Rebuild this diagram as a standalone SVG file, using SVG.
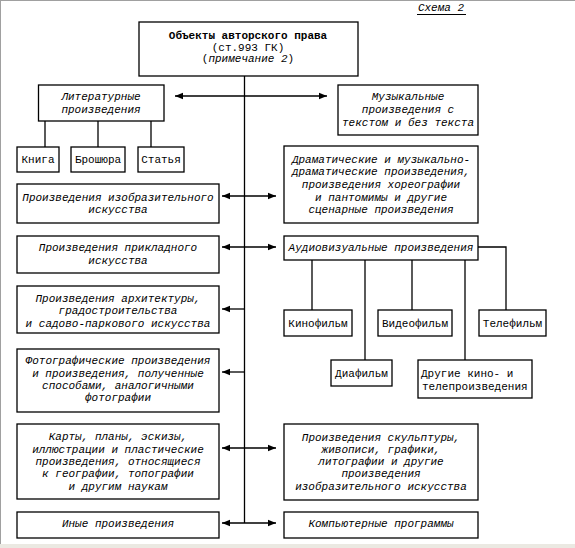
<svg xmlns="http://www.w3.org/2000/svg" width="575" height="548" viewBox="0 0 575 548">
<defs>
<marker id="ah" viewBox="0 0 8 8" refX="8" refY="4" markerWidth="8" markerHeight="8" markerUnits="userSpaceOnUse" orient="auto-start-reverse">
<path d="M0,0.8 L8,4 L0,7.2 Z" fill="#000"/>
</marker>
</defs>
<style>
.box{fill:#fff;stroke:#000;stroke-width:1.3}
.ln{fill:none;stroke:#000;stroke-width:1.3}
.ar{fill:none;stroke:#000;stroke-width:1.3;marker-end:url(#ah)}
.ar2{fill:none;stroke:#000;stroke-width:1.3;marker-start:url(#ah);marker-end:url(#ah)}
text{font-family:"Liberation Mono","DejaVu Sans Mono",monospace;font-size:11px;fill:#000;text-anchor:middle;white-space:pre}
.i{font-style:italic}
.b{font-weight:bold}
.l{text-anchor:start}
</style>
<rect x="0" y="0" width="575" height="548" fill="#fff"/>
<line x1="0" y1="0.5" x2="575" y2="0.5" stroke="#a0a0a0" stroke-width="1"/>
<line x1="0.5" y1="0" x2="0.5" y2="544" stroke="#a0a0a0" stroke-width="1"/>
<rect x="0" y="544" width="575" height="4" fill="#ebe9e2"/>

<g id="title">
<text x="441" y="11" class="i">Схема 2</text>
<line x1="417" y1="14.5" x2="466" y2="14.5" stroke="#000" stroke-width="1"/>
</g>

<g id="connectors">
<line class="ln" x1="244.5" y1="76" x2="244.5" y2="523"/>
<line class="ar2" x1="175" y1="96" x2="327" y2="96"/>
<line class="ln" x1="45" y1="121" x2="45" y2="147"/>
<line class="ln" x1="98" y1="121" x2="98" y2="147"/>
<line class="ln" x1="151" y1="121" x2="151" y2="147"/>
<line class="ar2" x1="222" y1="196" x2="276" y2="196"/>
<line class="ar2" x1="222" y1="247" x2="276" y2="247"/>
<line class="ar" x1="244.5" y1="309" x2="222" y2="309"/>
<line class="ar" x1="244.5" y1="372" x2="222" y2="372"/>
<line class="ar2" x1="222" y1="448" x2="276" y2="448"/>
<line class="ar2" x1="222" y1="523" x2="276" y2="523"/>
<line class="ln" x1="312" y1="260" x2="312" y2="310"/>
<line class="ln" x1="365" y1="260" x2="365" y2="360"/>
<line class="ln" x1="412" y1="260" x2="412" y2="310"/>
<line class="ln" x1="465" y1="260" x2="465" y2="360"/>
<polyline class="ln" points="478,247 506,247 506,310"/>
</g>

<g id="main">
<rect class="box" x="139" y="22" width="219" height="54"/>
<text x="248" y="39" class="b">Объекты авторского права</text>
<text x="248" y="51">(ст.993 ГК)</text>
<text x="248" y="62">(<tspan class="i">примечание 2</tspan>)</text>
</g>

<g id="lit">
<rect class="box" x="38.5" y="85" width="125.5" height="36"/>
<text x="101" y="100" class="i">Литературные</text>
<text x="101" y="113" class="i">произведения</text>
</g>

<g id="music">
<rect class="box" x="338" y="85" width="140" height="50"/>
<text x="408" y="100" class="i">Музыкальные</text>
<text x="408" y="113" class="i">произведения с</text>
<text x="408" y="126" class="i">текстом и без текста</text>
</g>

<g id="kniga">
<rect class="box" x="17" y="147" width="42" height="25"/>
<text x="38" y="163">Книга</text>
</g>
<g id="broshyura">
<rect class="box" x="71" y="147" width="54" height="25"/>
<text x="98" y="163">Брошюра</text>
</g>
<g id="statya">
<rect class="box" x="138" y="147" width="46" height="25"/>
<text x="161" y="163">Статья</text>
</g>

<g id="drama">
<rect class="box" x="284" y="146" width="194" height="77"/>
<text x="381" y="163" class="i">Драматические и музыкально-</text>
<text x="381" y="175" class="i">драматические произведения,</text>
<text x="381" y="188" class="i">произведения хореографии</text>
<text x="381" y="201" class="i">и пантомимы и другие</text>
<text x="381" y="213" class="i">сценарные произведения</text>
</g>

<g id="izo">
<rect class="box" x="17" y="184" width="202" height="39"/>
<text x="118" y="201" class="i">Произведения изобразительного</text>
<text x="118" y="213" class="i">искусства</text>
</g>

<g id="prikl">
<rect class="box" x="17" y="236" width="202" height="37"/>
<text x="118" y="251" class="i">Произведения прикладного</text>
<text x="118" y="264" class="i">искусства</text>
</g>

<g id="audio">
<rect class="box" x="284" y="236" width="194" height="24"/>
<text x="381" y="251" class="i">Аудиовизуальные произведения</text>
</g>

<g id="arch">
<rect class="box" x="17" y="286" width="202" height="47"/>
<text x="118" y="302" class="i">Произведения архитектуры,</text>
<text x="118" y="314" class="i">градостроительства</text>
<text x="118" y="327" class="i">и садово-паркового искусства</text>
</g>

<g id="kino">
<rect class="box" x="284" y="310" width="68" height="26"/>
<text x="318" y="327">Кинофильм</text>
</g>
<g id="video">
<rect class="box" x="378" y="310" width="74" height="26"/>
<text x="415" y="327">Видеофильм</text>
</g>
<g id="tele">
<rect class="box" x="479" y="310" width="67" height="26"/>
<text x="512.5" y="327">Телефильм</text>
</g>
<g id="dia">
<rect class="box" x="331" y="360" width="61" height="26"/>
<text x="361.5" y="377">Диафильм</text>
</g>
<g id="other">
<rect class="box" x="418" y="360" width="114" height="38"/>
<text x="421" y="377" class="l">Другие кино- и</text>
<text x="422" y="390" class="l">телепроизведения</text>
</g>

<g id="photo">
<rect class="box" x="17" y="349" width="202" height="63"/>
<text x="118" y="364" class="i">Фотографические произведения</text>
<text x="118" y="377" class="i">и произведения, полученные</text>
<text x="118" y="389" class="i">способами, аналогичными</text>
<text x="118" y="401" class="i">фотографии</text>
</g>

<g id="maps">
<rect class="box" x="17" y="424" width="202" height="75"/>
<text x="118" y="440" class="i">Карты, планы, эскизы,</text>
<text x="118" y="453" class="i">иллюстрации и пластические</text>
<text x="118" y="465" class="i">произведения, относящиеся</text>
<text x="118" y="477" class="i">к географии, топографии</text>
<text x="118" y="490" class="i">и другим наукам</text>
</g>

<g id="sculpt">
<rect class="box" x="284" y="424" width="194" height="76"/>
<text x="381" y="441" class="i">Произведения скульптуры,</text>
<text x="381" y="453" class="i">живописи, графики,</text>
<text x="381" y="465" class="i">литографии и другие</text>
<text x="381" y="477" class="i">произведения</text>
<text x="381" y="490" class="i">изобразительного искусства</text>
</g>

<g id="inye">
<rect class="box" x="17" y="512" width="202" height="26"/>
<text x="118" y="527" class="i">Иные произведения</text>
</g>

<g id="comp">
<rect class="box" x="284" y="512" width="194" height="26"/>
<text x="381" y="527" class="i">Компьютерные программы</text>
</g>
</svg>
